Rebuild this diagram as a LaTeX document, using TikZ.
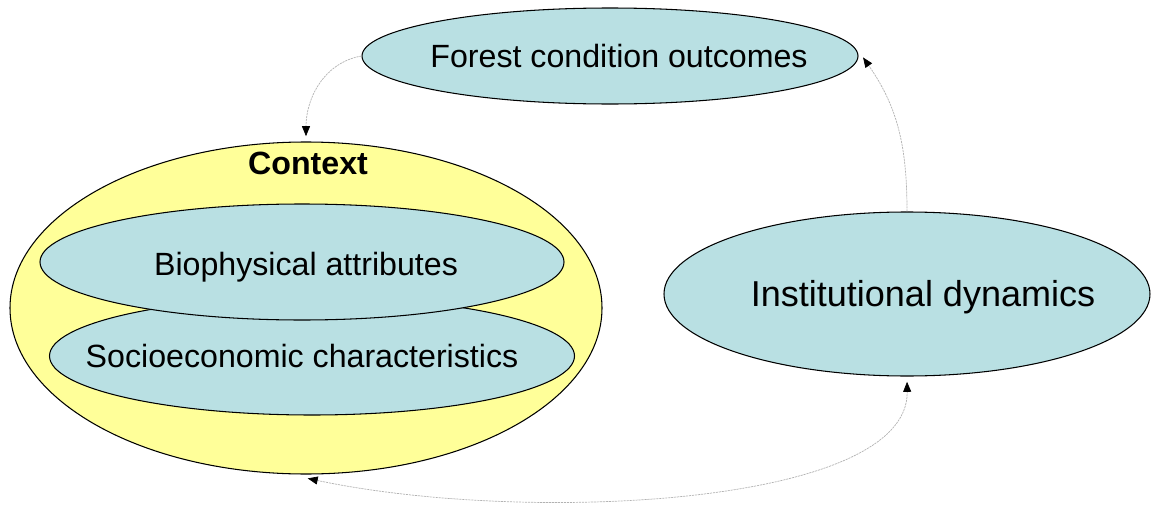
\documentclass[tikz,border=0pt]{standalone}
\usepackage{fontspec}
\setmainfont{Liberation Sans}
\usetikzlibrary{shapes.geometric,arrows.meta}
\definecolor{paleblue}{RGB}{185,224,227}
\definecolor{paleyellow}{RGB}{255,255,153}
\begin{document}
\begin{tikzpicture}[
	blob/.style={ellipse, draw=black, line width=0.6pt, fill=paleblue, inner sep=0pt},
	outer blob/.style={ellipse, draw=black, line width=0.6pt, fill=paleyellow, inner sep=0pt},
	txt/.style={font=\fontsize{18.3}{20}\selectfont, inner sep=0pt},
	link/.style={draw=gray!60, line width=0.4pt, dash pattern=on 1.2pt off 0.5pt,
	  -{Triangle[length=2mm, width=1.6mm, black]}, shorten >=1pt}]
	\useasboundingbox (0,0) rectangle (23.08,10.12);
	%\draw[help lines] (0,0) grid (23,10);
		\node[outer blob, minimum width=11.84cm, minimum height=6.64cm] (context) at (6.12,3.96) {};
		\node[txt, font=\fontsize{18.3}{20}\selectfont\bfseries] (contextlbl) at (6.16,6.86) {Context};
		\node[blob, minimum width=10.5cm, minimum height=2.36cm] (socio) at (6.24,3.0) {};
		\node[txt] (sociolbl) at ([xshift=-0.2cm]socio) {Socioeconomic characteristics};
		\node[blob, minimum width=10.48cm, minimum height=2.32cm] (bio) at (6.04,4.88) {};
		\node[txt] (biolbl) at ([xshift=0.08cm, yshift=-0.1cm]bio) {Biophysical attributes};
		\node[blob, minimum width=9.92cm, minimum height=1.92cm] (forest) at (12.2,9.0) {};
		\node[txt] (forestlbl) at ([xshift=0.18cm]forest) {Forest condition outcomes};
		\node[blob, minimum width=9.72cm, minimum height=3.28cm] (inst) at (18.14,4.24) {};
		\node[txt, font=\fontsize{20.5}{22}\selectfont] (instlbl) at ([xshift=0.32cm, yshift=-0.06cm]inst) {Institutional dynamics};
		% feedback arrows
		\draw[link] (forest.west) to[out=190, in=90] ([yshift=2pt]context.north);
		\draw[link] (inst.north) to[out=90, in=-55] ([xshift=2pt]forest.east);
		\draw[link, {Triangle[length=2mm, width=1.6mm, black]}-{Triangle[length=2mm, width=1.6mm, black]}, shorten <=1pt]
		  ([yshift=-2pt]context.south) to[out=-12, in=-89, out looseness=0.94, in looseness=0.53] ([yshift=-2pt]inst.south);
\end{tikzpicture}
\end{document}
